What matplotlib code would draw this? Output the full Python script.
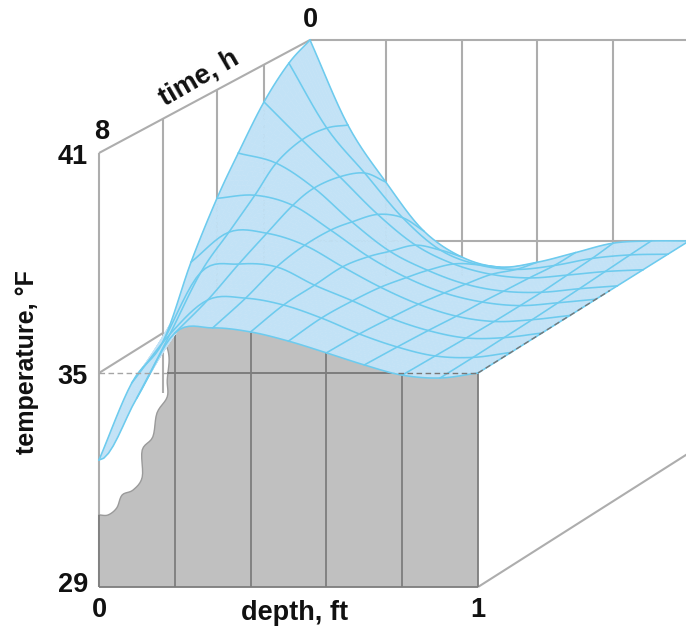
import numpy as np
import matplotlib
matplotlib.use("Agg")
import matplotlib.pyplot as plt
from matplotlib.collections import PolyCollection

plt.rcParams['font.family'] = ['Liberation Sans', 'DejaVu Sans']

# ---------- data ----------
depths = [0.0, 0.1, 0.2, 0.3, 0.4, 0.5, 0.6, 0.7, 0.8, 0.9, 1.0]
hours = [0, 1, 2, 3, 4, 5, 6, 7, 8]
temp_t0 = [41.00, 38.46, 36.76, 35.30, 34.55, 34.26, 34.40, 34.67, 34.94, 35.00, 35.0]
temp_t1 = [40.65, 38.73, 37.40, 36.08, 35.12, 34.70, 34.57, 34.68, 34.88, 34.98, 35.0]
temp_t2 = [39.91, 38.80, 37.72, 36.62, 35.72, 35.17, 34.87, 34.77, 34.85, 34.95, 35.0]
temp_t3 = [38.84, 38.55, 37.83, 36.85, 36.00, 35.45, 35.05, 34.85, 34.82, 34.92, 35.0]
temp_t4 = [37.89, 37.98, 37.69, 36.98, 36.22, 35.62, 35.18, 34.92, 34.82, 34.90, 35.0]
temp_t5 = [36.51, 37.36, 37.33, 36.99, 36.38, 35.80, 35.32, 34.98, 34.83, 34.88, 35.0]
temp_t6 = [34.75, 36.70, 36.93, 36.85, 36.34, 35.90, 35.42, 35.07, 34.86, 34.87, 35.0]
temp_t7 = [34.15, 35.50, 36.45, 36.50, 36.31, 35.95, 35.51, 35.15, 34.90, 34.86, 35.0]
temp_t8 = [32.56, 34.30, 36.09, 36.23, 36.12, 35.87, 35.55, 35.22, 34.94, 34.86, 35.0]
edge_depth = [0.0, 0.024, 0.047, 0.061, 0.090, 0.114, 0.114, 0.142, 0.153, 0.180, 0.180, 0.185, 0.180, 0.169]
edge_temp = [31.02, 31.02, 31.22, 31.58, 31.72, 32.08, 32.84, 33.21, 33.88, 34.33, 34.80, 35.35, 35.68, 35.82]
temp_ticks = [29, 35, 41]
time_ticks = [8, 6, 4, 2, 0]
depth_ticks = [0.2, 0.4, 0.6, 0.8]

temps = np.array([temp_t0, temp_t1, temp_t2, temp_t3, temp_t4, temp_t5, temp_t6, temp_t7, temp_t8])

# ---------- oblique projection ----------
SCALE_S = [1.0, 0.90, 0.782, 0.66, 0.559, 0.436, 0.303, 0.156, 0.0]
LEVELS = [29, 35, 41]
FRONT_Y = [587, 373, 153]
BACK_Y = [453, 241, 40]


def depth_of_time(t):
    return np.interp(t, hours, SCALE_S)


def project(d, T, s):
    d, T, s = np.asarray(d, float), np.asarray(T, float), np.asarray(s, float)
    x = 99 + 379 * d + 211 * s
    y = (1 - s) * np.interp(T, LEVELS, FRONT_Y) + s * np.interp(T, LEVELS, BACK_Y)
    return x, y


def smooth(a, n, flat_start=0.0):
    """Catmull-Rom drawing curve through the points of a 1-D array."""
    a = np.asarray(a, float)
    lead = (1 - flat_start) * (2 * a[0] - a[1]) + flat_start * a[1]
    p = np.concatenate(([lead], a, [2 * a[-1] - a[-2]]))
    out = []
    for i in range(1, len(p) - 2):
        u = np.arange(n) / n
        out.append(0.5 * (2 * p[i] + (p[i + 1] - p[i - 1]) * u
                          + (2 * p[i - 1] - 5 * p[i] + 4 * p[i + 1] - p[i + 2]) * u ** 2
                          + (3 * p[i] - p[i - 1] - 3 * p[i + 1] + p[i + 2]) * u ** 3))
    out.append(a[-1:])
    return np.concatenate(out)


N = 8
by_time = np.apply_along_axis(smooth, 0, temps, N)
# the front edge leaves the surface nearly flat at depth 0
flat_weight = np.clip(np.linspace(0, 8, by_time.shape[0]) - 7, 0, 1)
fine_t = np.array([smooth(row, N, w) for row, w in zip(by_time, flat_weight)])
fine_d = smooth(depths, N)
fine_s = smooth(SCALE_S, N)
D, S = np.meshgrid(fine_d, fine_s)
X, Y = project(D, fine_t, S)

GREY_LINE = '#adadad'
DARK_LINE = '#7d7d7d'
FACE = '#c0c0c0'
BLUE = '#c2e2f6'
BLUE_LINE = '#6dcbee'

fig = plt.figure(figsize=(6.86, 6.29), dpi=100)
ax = fig.add_axes([0, 0, 1, 1])
ax.set_xlim(0, 686)
ax.set_ylim(629, 0)
ax.axis('off')


def seg(d, T, s, **kw):
    x, y = project(d, T, s)
    ax.plot(x, y, solid_capstyle='butt', **kw)


back = dict(color=GREY_LINE, lw=1.5, zorder=1)
# box edges behind the surface
seg([0, 0], [29, 41], [0, 0], **back)
seg([0, 0], [41, 41], [0, 1], **back)
seg([0, 1], [41, 41], [1, 1], **back)
seg([0, 1], [35, 35], [1, 1], **back)
seg([1, 1], [29, 29], [0, 1], **back)
seg([0, 0], [35, 35], [0, depth_of_time(6)], **back)
for h, low in zip(time_ticks[1:-1], [33.3, 35, 35]):
    s = depth_of_time(h)
    seg([0, 0], [41, low], [s, s], **back)
for d in depth_ticks:
    seg([d, d], [41, 34], [1, 1], **back)

# grey front face
top_idx = np.where(fine_d >= 0.2)[0]
ex = smooth(edge_depth, 6)
et = smooth(edge_temp, 6)
fx, fy = project(np.concatenate(([0], ex, fine_d[top_idx], [1])),
                 np.concatenate(([29], et, fine_t[-1, top_idx], [29])), 0)
ax.fill(fx, fy, facecolor=FACE, edgecolor='none', zorder=2)
ax.plot(fx[1:-1][:len(ex)], fy[1:-1][:len(ex)], color='#9a9a9a', lw=1.0, zorder=2.1)

front = dict(color=DARK_LINE, lw=1.3, zorder=3)
seg([0, 1], [29, 29], [0, 0], **front)
seg([0, 0], [29, edge_temp[0]], [0, 0], **front)
seg([1, 1], [29, 35], [0, 0], **front)
seg([0.18, 0.79], [35, 35], [0, 0], color='#6a6a6a', lw=1.1, zorder=3)
for d in depth_ticks:
    seg([d, d], [29, temps[-1, depths.index(d)]], [0, 0], **front)

# blue surface, painted back to front
polys = []
for i in range(X.shape[0] - 1):
    for j in range(X.shape[1] - 1):
        polys.append([(X[i, j], Y[i, j]), (X[i, j + 1], Y[i, j + 1]),
                      (X[i + 1, j + 1], Y[i + 1, j + 1]), (X[i + 1, j], Y[i + 1, j])])
ax.add_collection(PolyCollection(polys, facecolors=BLUE, edgecolors=BLUE, linewidths=0.3, zorder=4))
for i in range(0, X.shape[0], N):
    ax.plot(X[i], Y[i], color=BLUE_LINE, lw=1.15, zorder=5)
for j in range(0, X.shape[1], N):
    ax.plot(X[:, j], Y[:, j], color=BLUE_LINE, lw=1.15, zorder=5)

# dashed level lines over everything
dash = dict(color='#777777', lw=1.0, ls=(0, (4, 2.5)), zorder=6)
seg([0.0, 0.18], [35, 35], [0, 0], color='#a5a5a5', lw=1.0, ls=(0, (4, 2.5)), zorder=6)
seg([0.79, 1.0], [35, 35], [0, 0], **dash)
seg([1, 1], [35, 35], [0, 0.625], **dash)

# text
fs = 19.5
txt = dict(fontsize=fs, fontweight='bold', color='#111111', zorder=8)
for v in temp_ticks:
    x, y = project(0, v, 0)
    ax.text(x - 11, y + (-2 if v == 29 else 4), str(v), ha='right', va='center', **txt)
x, y = project(0, 41, 0)
ax.text(x + 3, y - 21, '8', ha='center', va='center', **txt)
x, y = project(0, 41, 1)
ax.text(x, y - 20, '0', ha='center', va='center', **txt)
ax.text(99, 610, '0', ha='center', va='center', **txt)
ax.text(478, 610, '1', ha='center', va='center', **txt)
ax.text(295, 613, 'depth, ft', ha='center', va='center', **txt)
ax.text(199, 78, 'time, h', ha='center', va='center', rotation=30, rotation_mode='anchor', **txt)
ax.text(27, 362, 'temperature, °F', ha='center', va='center', rotation=90,
        fontsize=18, fontweight='bold', color='#111111', zorder=8)

fig.savefig('out.png', dpi=100)
